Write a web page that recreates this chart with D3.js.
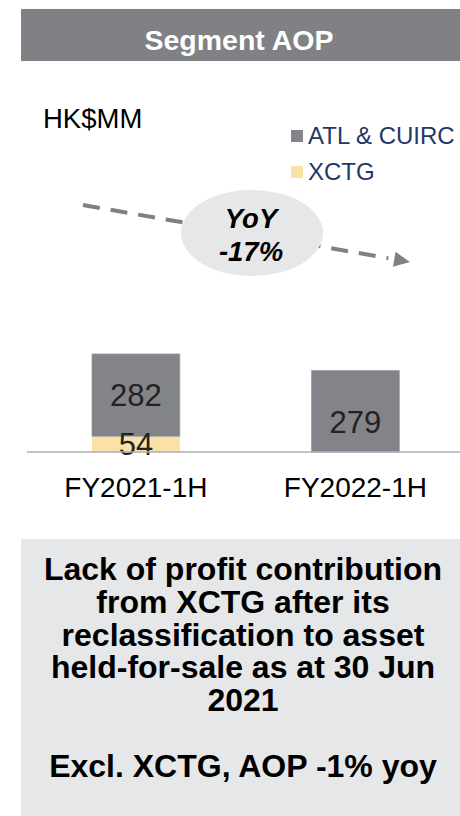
<!DOCTYPE html>
<html><head><meta charset="utf-8">
<script src="https://cdn.jsdelivr.net/npm/d3@7/dist/d3.min.js"></script>
<style>
html,body{margin:0;padding:0;background:#fff;}
svg{display:block;font-family:"Liberation Sans",Arial,Helvetica,sans-serif;}
</style></head>
<body>
<svg id="chart" width="460" height="816"></svg>
<script>
const categories = ["FY2021-1H", "FY2022-1H"];
const seriesNames = ["XCTG", "ATL & CUIRC"];
const xctgValues = [54, 0];
const atlValues = [282, 279];
const title = "Segment AOP";
const unitLabel = "HK$MM";
const yoyLines = ["YoY", "-17%"];
const noteLines = ["Lack of profit contribution", "from XCTG after its", "reclassification to asset", "held-for-sale as at 30 Jun", "2021", "", "Excl. XCTG, AOP -1% yoy"];

const colors = {"XCTG": "#FAE1A7", "ATL & CUIRC": "#838489"};
const svg = d3.select("#chart");

// Header
svg.append("rect").attr("x",21).attr("y",9).attr("width",439).attr("height",52).attr("fill","#808185");
svg.append("text").attr("x",239).attr("y",50).attr("text-anchor","middle")
  .attr("font-size",28.5).attr("font-weight","bold").attr("fill","#fff").text(title);

// Unit label
svg.append("text").attr("x",43).attr("y",128).attr("font-size",27.5).attr("fill","#000").text(unitLabel);

// Legend
const legendItems = ["ATL & CUIRC", "XCTG"];
const lg = svg.append("g");
legendItems.forEach((name,i)=>{
  const yy = 130 + i*36;
  lg.append("rect").attr("x",291).attr("y",yy).attr("width",12).attr("height",12).attr("fill",colors[name]);
  lg.append("text").attr("x",308).attr("y",yy+14).attr("font-size",24).attr("fill","#1F3864").text(name);
});

// Scales
const x = d3.scaleBand().domain(categories).range([26.15,465.15]).paddingInner(0.6).paddingOuter(0.3);
const y = d3.scaleLinear().domain([0,340]).range([452, 452-340*0.2917]);

const data = categories.map((c,i)=>({cat:c, XCTG:xctgValues[i], "ATL & CUIRC":atlValues[i]}));
const stack = d3.stack().keys(seriesNames)(data);

const barsG = svg.append("g");
stack.forEach(layer=>{
  barsG.selectAll(null).data(layer.filter(d=>d[1]-d[0]>0)).enter().append("rect")
    .attr("x",d=>x(d.data.cat)).attr("width",x.bandwidth())
    .attr("y",d=>y(d[1])).attr("height",d=>y(d[0])-y(d[1]))
    .attr("fill",colors[layer.key])
    .attr("stroke", layer.key==="ATL & CUIRC" ? "#9c9da1" : "none").attr("stroke-width",0.8);
});

// Baseline
svg.append("line").attr("x1",27).attr("x2",460).attr("y1",y(0)).attr("y2",y(0))
  .attr("stroke","#ADADB8").attr("stroke-width",1.5);

// Value labels
stack.forEach(layer=>{
  barsG.selectAll(null).data(layer.filter(d=>d[1]-d[0]>0)).enter().append("text")
    .attr("x",d=>x(d.data.cat)+x.bandwidth()/2)
    .attr("y",d=>{
      const single = d.data.XCTG===0;
      const mid = (y(d[0])+y(d[1]))/2;
      return (single ? mid+11 : mid) + 11;
    })
    .attr("text-anchor","middle").attr("font-size",31).attr("fill","#222")
    .text(d=>d[1]-d[0]);
});

// Category axis labels
const xAxis = svg.append("g").attr("transform",`translate(0,${y(0)})`)
  .call(d3.axisBottom(x).tickSize(0).tickPadding(0));
xAxis.select(".domain").remove();
xAxis.selectAll("text").attr("font-size",28).attr("fill","#000")
  .attr("font-family",'"Liberation Sans",Arial,sans-serif').attr("dy",null).attr("y",45);

// Dashed trend arrow
const p0=[83,205], tip=[410,262];
const dx=tip[0]-p0[0], dy=tip[1]-p0[1], L=Math.hypot(dx,dy), ux=dx/L, uy=dy/L;
const headLen=16, headHalf=7.5;
const base=[tip[0]-ux*headLen, tip[1]-uy*headLen];
svg.append("line").attr("x1",p0[0]).attr("y1",p0[1]).attr("x2",base[0]-ux*6).attr("y2",base[1]-uy*6)
  .attr("stroke","#7E8084").attr("stroke-width",4).attr("stroke-dasharray","17,11");
svg.append("path").attr("d",`M${tip[0]},${tip[1]}L${base[0]-uy*headHalf},${base[1]+ux*headHalf}L${base[0]+uy*headHalf},${base[1]-ux*headHalf}Z`)
  .attr("fill","#7E8084");

// YoY ellipse
svg.append("ellipse").attr("cx",252).attr("cy",233).attr("rx",71).attr("ry",43).attr("fill","#E6E7E9");
yoyLines.forEach((t,i)=>{
  svg.append("text").attr("x",251).attr("y",228+i*33).attr("text-anchor","middle")
    .attr("font-size",27.5).attr("font-weight","bold").attr("font-style","italic").attr("fill","#000").text(t);
});

// Note box
svg.append("rect").attr("x",21).attr("y",539).attr("width",439).attr("height",277).attr("fill","#E6E7E9");
noteLines.forEach((t,i)=>{
  if(!t) return;
  svg.append("text").attr("x",243).attr("y",580+i*32.8).attr("text-anchor","middle")
    .attr("font-size",32).attr("font-weight","bold").attr("fill","#000").text(t);
});
</script>
</body></html>
